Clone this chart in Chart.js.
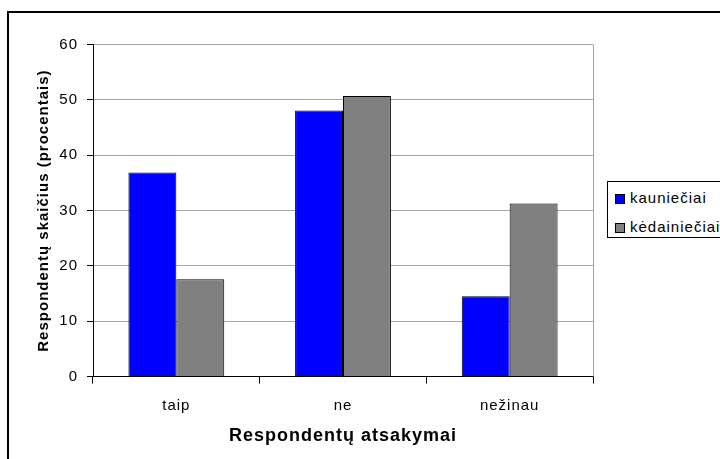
<!DOCTYPE html>
<html>
<head>
<meta charset="utf-8">
<script src="https://cdn.jsdelivr.net/npm/chart.js@4/dist/chart.umd.min.js"></script>
<style>
  html, body { margin: 0; padding: 0; background: #fff; overflow: hidden; width: 720px; height: 459px; }
  #frame { position: absolute; left: 7px; top: 11px; width: 760px; height: 500px; border: 2px solid #000; }
  #chart { position: absolute; left: 0; top: 0; }
  #legend {
    position: absolute; left: 607px; top: 181px; width: 140px; height: 55px;
    border: 1px solid #000; background: #fff;
    font-family: "Liberation Sans", Arial, sans-serif; font-size: 15px; letter-spacing: 1px; color: #000;
  }
  .legend-item { position: absolute; left: 7px; height: 18px; line-height: 18px; white-space: nowrap; }
  .legend-box { display: inline-block; width: 8px; height: 8px; border: 1px solid #000; margin-right: 5px; vertical-align: -1px; }
</style>
</head>
<body>
<div id="frame"></div>
<canvas id="chart" width="720" height="459"></canvas>
<div id="legend"></div>
<script>
var categories   = ["taip", "ne", "nežinau"];
var seriesNames  = ["kauniečiai", "kėdainiečiai"];
var kaunieciai   = [36.9, 48.1, 14.5];
var kedainieciai = [17.6, 50.7, 31.3];
var yTicks       = [0, 10, 20, 30, 40, 50, 60];
var seriesColors = ["#0000ff", "#808080"];

var FONT = "'Liberation Sans', Arial, sans-serif";

// Excel text is spaced out a little wider than plain Arial
var spacing = {
  id: "spacing",
  beforeLayout: function(chart) { chart.ctx.letterSpacing = "1px"; },
  beforeDraw: function(chart) { chart.ctx.letterSpacing = "1px"; }
};

// grey right edge of the plot area
var plotEdge = {
  id: "plotEdge",
  beforeDatasetsDraw: function(chart) {
    var a = chart.chartArea, ctx = chart.ctx;
    ctx.save();
    ctx.strokeStyle = "#a6a6a6";
    ctx.lineWidth = 1;
    ctx.beginPath();
    ctx.moveTo(Math.round(a.right) + 0.5, a.top);
    ctx.lineTo(Math.round(a.right) + 0.5, a.bottom);
    ctx.stroke();
    ctx.restore();
  }
};

function renderChart() {
  var ctx = document.getElementById("chart").getContext("2d");
  var chart = new Chart(ctx, {
    type: "bar",
    data: {
      labels: categories,
      datasets: [
        { label: seriesNames[0], data: kaunieciai, backgroundColor: seriesColors[0] },
        { label: seriesNames[1], data: kedainieciai, backgroundColor: seriesColors[1] }
      ].map(function(d) {
        d.borderColor = "#000";
        d.borderWidth = 1;
        d.categoryPercentage = 0.575;
        d.barPercentage = 1;
        return d;
      })
    },
    options: {
      responsive: false,
      animation: false,
      devicePixelRatio: 1,
      layout: { padding: { left: 20, right: 127, top: 44.6, bottom: 0 } },
      plugins: { legend: { display: false }, tooltip: { enabled: false } },
      scales: {
        x: {
          grid: { offset: true, drawOnChartArea: false, tickLength: 7, tickColor: "#000" },
          border: { color: "#000", width: 1 },
          ticks: { padding: 13, color: "#000", font: { family: FONT, size: 15 } },
          title: {
            display: true, text: "Respondentų atsakymai", color: "#000",
            font: { family: FONT, size: 18, weight: "bold" },
            padding: { top: 0, bottom: 12 }
          },
          afterFit: function(s) { s.height = 459 - 376.6; }
        },
        y: {
          min: yTicks[0],
          max: yTicks[yTicks.length - 1],
          afterBuildTicks: function(s) { s.ticks = yTicks.map(function(v) { return { value: v }; }); },
          grid: { color: "#a6a6a6", tickColor: "#000", tickLength: 6 },
          border: { color: "#000", width: 1 },
          ticks: { padding: 9, color: "#000", font: { family: FONT, size: 15 } },
          title: {
            display: true, text: "Respondentų skaičius (procentais)", color: "#000",
            font: { family: FONT, size: 15, weight: "bold" },
            padding: { top: 15, bottom: 0 }
          },
          afterFit: function(s) { s.width = 73; }
        }
      }
    },
    plugins: [spacing, plotEdge]
  });
  return chart;
}

function renderLegend(chart) {
  var box = document.getElementById("legend");
  var rows = [7, 36];
  chart.data.datasets.forEach(function(d, i) {
    var item = document.createElement("div");
    item.className = "legend-item";
    item.style.top = rows[i] + "px";
    item.innerHTML = '<span class="legend-box" style="background:' + d.backgroundColor + '"></span>' + d.label;
    box.appendChild(item);
  });
}

document.addEventListener("DOMContentLoaded", function() {
  var chart = renderChart();
  renderLegend(chart);
});
</script>
</body>
</html>
